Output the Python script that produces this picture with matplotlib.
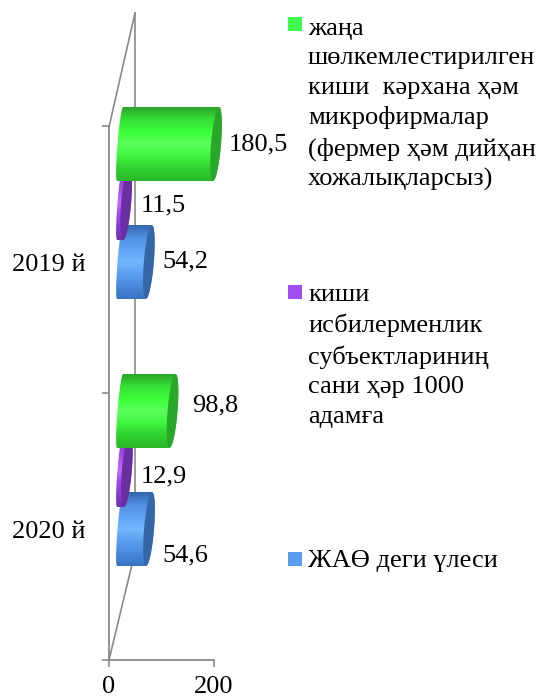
import numpy as np
import matplotlib
matplotlib.use("Agg")
import matplotlib.pyplot as plt
from matplotlib.patches import PathPatch, Rectangle
from matplotlib.path import Path
from matplotlib.colors import LinearSegmentedColormap

plt.rcParams['font.family'] = ['Liberation Serif', 'DejaVu Serif']

categories = ['2020 й', '2019 й']
jaq_values = [54.6, 54.2]
kishi_values = [12.9, 11.5]
jana_values = [98.8, 180.5]
x_ticks = [0, 200]

legend_jana = "жаңа\nшөлкемлестирилген\nкиши  кәрхана ҳәм\nмикрофирмалар\n(фермер ҳәм дийҳан\nхожалықларсыз)"
legend_kishi = "киши\nисбилерменлик\nсубъектлариниң\nсани ҳәр 1000\nадамға"
legend_jaq = "ЖАӨ деги үлеси"

W, H = 540, 700
FS = 19
GRAY = '#8a8a8a'
fig = plt.figure(figsize=(W / 100, H / 100), dpi=100)


def rect(l, t, r, b):
    return [l / W, (H - b) / H, (r - l) / W, (b - t) / H]


# back wall in pixel coordinates, beneath the bars
wall = fig.add_axes([0, 0, 1, 1], zorder=1)
wall.set_xlim(0, W); wall.set_ylim(H, 0); wall.axis('off')
wall.plot([135, 135], [13, 552], color=GRAY, lw=1.2)
wall.plot([109, 135], [127, 13], color=GRAY, lw=1.2)
wall.plot([109, 135], [660, 552], color=GRAY, lw=1.2)

# overlay in pixel coordinates for labels and legend
ov = fig.add_axes([0, 0, 1, 1], zorder=4)
ov.patch.set_alpha(0)
ov.set_xlim(0, W); ov.set_ylim(H, 0); ov.axis('off')

# real axis: value scale and category scale
ax = fig.add_axes(rect(109, 126, 214, 660), zorder=2)
ax.patch.set_alpha(0)
ax.set_xlim(0, 200); ax.set_ylim(0, 2)
for s in ('top', 'right'):
    ax.spines[s].set_visible(False)
for s in ('left', 'bottom'):
    ax.spines[s].set_color(GRAY); ax.spines[s].set_linewidth(1.3)
ax.set_xticks(x_ticks); ax.set_xticklabels([str(v) for v in x_ticks], fontsize=FS)
ax.set_yticks([0, 1, 2]); ax.set_yticklabels([])
ax.set_yticks([0.49, 1.49], minor=True)
ax.set_yticklabels(categories, minor=True, fontsize=FS)
ax.tick_params(axis='both', which='major', length=5.2, width=1.2, color=GRAY)
ax.tick_params(axis='x', which='major', pad=6)
ax.tick_params(axis='y', which='minor', length=0, pad=17)

# bars axis: value 0 at the bars' base, category centres on purple bars
bx = fig.add_axes(rect(120, 203, 226.4, 470), zorder=3)
bx.patch.set_alpha(0); bx.axis('off')
bx.set_xlim(0, 200); bx.set_ylim(0, 1)
px_x = 200 / 106.4
px_y = 1 / 267


def bar3d(value, yc, stops, cap):
    hh, skew, w_end, w_base = 37 * px_y, 3 * px_x, 5 * px_x, 2.5 * px_x
    s = np.linspace(1, -1, 60)
    e = np.sqrt(1 - s ** 2)
    ys = yc + s * hh
    base = skew * s - w_base * e
    end_r = value + skew * s + w_end * e
    end_l = value + skew * s - w_end * e
    outline = np.r_[np.c_[base, ys], np.c_[end_r[::-1], ys[::-1]]]
    patch = PathPatch(Path(np.r_[outline, outline[:1]]), fc='none', ec='none',
                      transform=bx.transData, clip_on=False)
    bx.add_patch(patch)
    cmap = LinearSegmentedColormap.from_list('g', stops)
    grad = np.linspace(0, 1, 128)[:, None]
    im = bx.imshow(grad, cmap=cmap, aspect='auto', origin='upper', interpolation='bilinear',
                   extent=(-3 * px_x - w_base * 2, value + 10 * px_x, yc - hh, yc + hh),
                   zorder=bar3d.z)
    im.set_clip_box(fig.bbox)
    im.set_clip_path(patch)
    capxy = np.r_[np.c_[end_r, ys], np.c_[end_l[::-1], ys[::-1]]]
    bx.fill(capxy[:, 0], capxy[:, 1], color=cap, lw=0, clip_on=False, zorder=bar3d.z + 0.5)
    bar3d.z += 1


bar3d.z = 3
GREEN = ['#2aa62a', '#35e035', '#3cff3c', '#5cff5c', '#3ff53f', '#2fcf2f', '#2ab82a']
PURPLE = ['#6a2fa0', '#8f3fe0', '#a850f0', '#c868ff', '#a048f0', '#8838d8', '#7030b0']
BLUE = ['#3568ac', '#4f8ee0', '#5fa4f5', '#74b8ff', '#5a9ff0', '#4a88dd', '#3a72c0']
offset = 59 * px_y
for yc, blue, purple, green in zip([0, 1], jaq_values, kishi_values, jana_values):
    bar3d(blue, yc - offset, BLUE, '#3566a6')
    bar3d(purple, yc, PURPLE, '#6a2fa0')
    bar3d(green, yc + offset, GREEN, '#2aa62a')

# data labels
labels = [(v, x, y) for v, x, y in zip(
    jana_values + kishi_values + jaq_values,
    [192, 229, 141, 141, 162, 162],
    [405, 144, 476, 205, 555, 261])]
for v, x, y in labels:
    ov.text(x, y, f"{v:.1f}".replace('.', ','), fontsize=FS, va='center', ha='left', color='black', zorder=20)

# legend
for y_sq, col, txt, y_txt in [(17, '#3cff4c', legend_jana, 18),
                              (285, '#a050f0', legend_kishi, 284),
                              (552, '#5a9cf0', legend_jaq, 550)]:
    ov.add_patch(Rectangle((288, y_sq), 13.5, 13.5, fc=col, ec='none'))
    ov.text(308, y_txt, txt, fontsize=FS, va='top', ha='left', color='black', linespacing=1.43)

fig.savefig('out.png', dpi=100)
